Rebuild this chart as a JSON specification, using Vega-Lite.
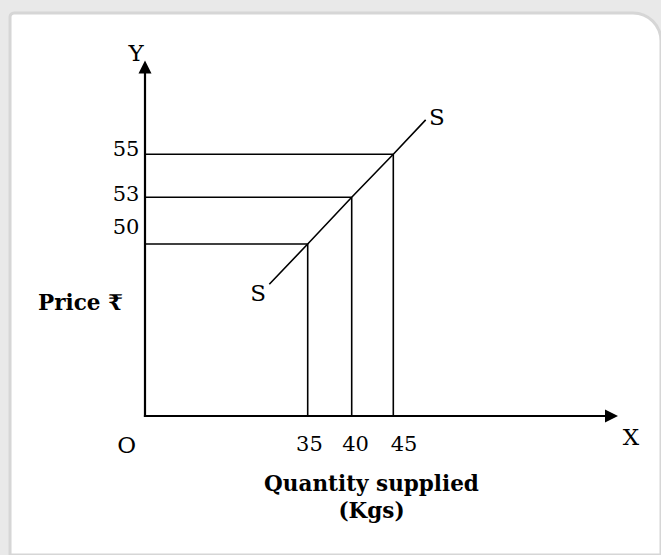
{
  "$schema": "https://vega.github.io/schema/vega-lite/v6.json",
  "width": 661,
  "height": 555,
  "padding": 0,
  "autosize": {"type": "none"},
  "background": "#e9e9e9",
  "config": {"view": {"stroke": null}, "font": "DejaVu Serif"},
  "datasets": {
    "card": [{"x": -29.04, "x2": 76.5, "y": 61.58, "y2": -40.4}],
    "guides": [
      {"x": 0, "y": 50, "x2": 35, "y2": 50},
      {"x": 0, "y": 53, "x2": 40, "y2": 53},
      {"x": 0, "y": 55, "x2": 45, "y2": 55},
      {"x": 35, "y": 0, "x2": 35, "y2": 50},
      {"x": 40, "y": 0, "x2": 40, "y2": 53},
      {"x": 45, "y": 0, "x2": 45, "y2": 55}
    ],
    "axes": [
      {"x": 0, "y": 0, "x2": 0, "y2": 59.0},
      {"x": 0, "y": 0, "x2": 70.8, "y2": 0}
    ],
    "arrows": [
      {"x": 0, "y": 59.36, "dir": "up"},
      {"x": 71.44, "y": 0, "dir": "right"}
    ],
    "supply": [
      {"quantity": 26.74, "price": 38.28},
      {"quantity": 35, "price": 50},
      {"quantity": 40, "price": 53},
      {"quantity": 45, "price": 55},
      {"quantity": 48.81, "price": 56.6}
    ],
    "ylabels": [
      {"x": -1.2, "y": 55.18, "text": "55"},
      {"x": -1.2, "y": 53.11, "text": "53"},
      {"x": -1.2, "y": 51.0, "text": "50"}
    ],
    "ticklabels": [
      {"x": 35.2, "y": -8.5, "text": "35"},
      {"x": 40.46, "y": -8.5, "text": "40"},
      {"x": 46.26, "y": -8.5, "text": "45"}
    ],
    "letters": [
      {"x": -3.94, "y": -8.8, "text": "O"},
      {"x": 72.97, "y": -6.5, "text": "X"},
      {"x": -1.94, "y": 59.67, "text": "Y"},
      {"x": 50.14, "y": 56.71, "text": "S"},
      {"x": 24.31, "y": 35.4, "text": "S"}
    ],
    "titles": [
      {"x": -13.87, "y": 32.7, "text": "Price ₹"},
      {"x": 42.38, "y": -20.0, "text": "Quantity supplied"},
      {"x": 42.38, "y": -28.0, "text": "(Kgs)"}
    ]
  },
  "layer": [
    {
      "data": {"name": "card"},
      "mark": {"type": "rect", "fill": "white", "stroke": "#d6d6d6", "strokeWidth": 3, "cornerRadiusTopRight": 28, "cornerRadiusTopLeft": 4},
      "encoding": {
        "x": {"field": "x", "type": "quantitative", "axis": null, "scale": {"type": "linear", "domain": [-31.2, 0, 35, 40, 45, 76.5], "range": [0, 145, 307.7, 351.7, 393.3, 661], "nice": false, "zero": false}},
        "x2": {"field": "x2"},
        "y": {"field": "y", "type": "quantitative", "axis": null, "scale": {"type": "linear", "domain": [-40.4, 0, 50, 53, 55, 62.18], "range": [555, 416, 244, 197.3, 154.3, 0], "nice": false, "zero": false}},
        "y2": {"field": "y2"}
      }
    },
    {
      "data": {"name": "guides"},
      "mark": {"type": "rule", "color": "black", "strokeWidth": 1.6},
      "encoding": {
        "x": {"field": "x", "type": "quantitative"},
        "x2": {"field": "x2"},
        "y": {"field": "y", "type": "quantitative"},
        "y2": {"field": "y2"}
      }
    },
    {
      "data": {"name": "axes"},
      "mark": {"type": "rule", "color": "black", "strokeWidth": 2.2, "strokeCap": "square"},
      "encoding": {
        "x": {"field": "x", "type": "quantitative"},
        "x2": {"field": "x2"},
        "y": {"field": "y", "type": "quantitative"},
        "y2": {"field": "y2"}
      }
    },
    {
      "data": {"name": "arrows"},
      "mark": {"type": "point", "filled": true, "color": "black", "opacity": 1, "size": 169, "strokeWidth": 0},
      "encoding": {
        "x": {"field": "x", "type": "quantitative"},
        "y": {"field": "y", "type": "quantitative"},
        "shape": {"field": "dir", "type": "nominal", "legend": null, "scale": {"domain": ["up", "right"], "range": ["M0,0L-1,2L1,2Z", "M0,0L-2,-1L-2,1Z"]}}
      }
    },
    {
      "data": {"name": "supply"},
      "mark": {"type": "line", "color": "black", "strokeWidth": 1.6},
      "encoding": {
        "x": {"field": "quantity", "type": "quantitative"},
        "y": {"field": "price", "type": "quantitative"}
      }
    },
    {
      "data": {"name": "ylabels"},
      "mark": {"type": "text", "align": "right", "baseline": "middle", "fontSize": 21, "color": "black"},
      "encoding": {
        "x": {"field": "x", "type": "quantitative"},
        "y": {"field": "y", "type": "quantitative"},
        "text": {"field": "text"}
      }
    },
    {
      "data": {"name": "ticklabels"},
      "mark": {"type": "text", "align": "center", "baseline": "middle", "fontSize": 21, "color": "black"},
      "encoding": {
        "x": {"field": "x", "type": "quantitative"},
        "y": {"field": "y", "type": "quantitative"},
        "text": {"field": "text"}
      }
    },
    {
      "data": {"name": "letters"},
      "mark": {"type": "text", "align": "center", "baseline": "middle", "fontSize": 23, "color": "black"},
      "encoding": {
        "x": {"field": "x", "type": "quantitative"},
        "y": {"field": "y", "type": "quantitative"},
        "text": {"field": "text"}
      }
    },
    {
      "data": {"name": "titles"},
      "mark": {"type": "text", "align": "center", "baseline": "middle", "fontSize": 21.5, "fontWeight": "bold", "color": "black"},
      "encoding": {
        "x": {"field": "x", "type": "quantitative"},
        "y": {"field": "y", "type": "quantitative"},
        "text": {"field": "text"}
      }
    }
  ]
}
